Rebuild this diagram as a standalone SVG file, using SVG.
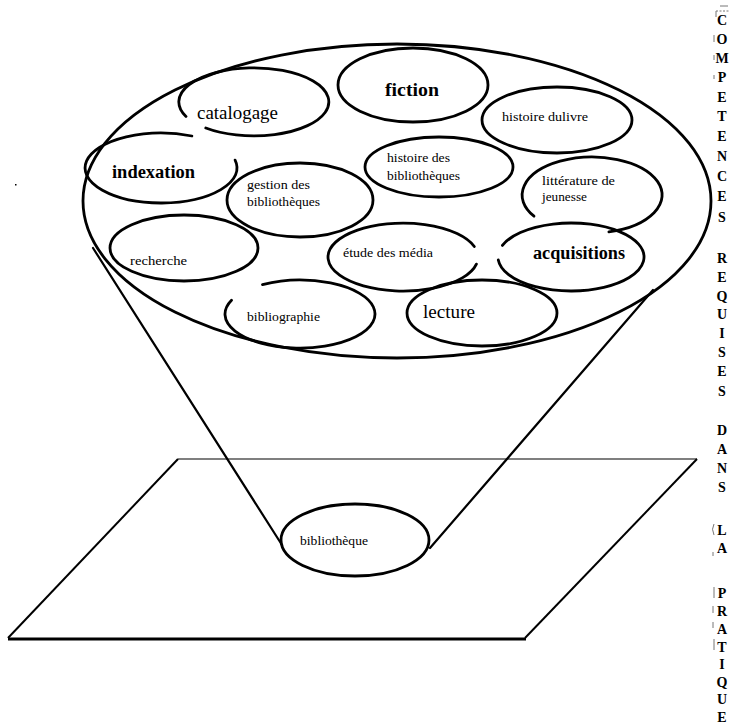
<svg xmlns="http://www.w3.org/2000/svg" width="739" height="726" viewBox="0 0 739 726">
<style>
.bg{fill:#ffffff}
.ell{fill:none;stroke:#000;stroke-width:2.8;stroke-linecap:round}
.big{fill:none;stroke:#000;stroke-width:2.8}
.cone{fill:none;stroke:#000;stroke-width:2.2;stroke-linecap:round}
.plane{fill:none;stroke:#000;stroke-width:2}
.sm{font-family:'Liberation Serif','Times New Roman',serif;font-size:12px;fill:#000}
.lg{font-family:'Liberation Serif','Times New Roman',serif;font-size:18px;fill:#000}
.col{font-family:'Liberation Serif','Times New Roman',serif;font-size:14px;font-weight:bold;fill:#000;text-anchor:middle}
.mark{stroke:#777;stroke-width:1;fill:none}
</style>
<rect class="bg" x="0" y="0" width="739" height="726"/>

<g id="plane">
  <line x1="178" y1="459" x2="697" y2="459" stroke="#000" stroke-width="1.2"/>
  <line x1="178" y1="459" x2="8" y2="638" class="plane"/>
  <line x1="697" y1="459" x2="525" y2="638" class="plane"/>
  <line x1="8" y1="639" x2="526" y2="639" stroke="#000" stroke-width="3"/>
</g>

<g id="cone-top">
  <ellipse class="big" cx="397" cy="201" rx="314" ry="157"/>
</g>

<g id="connectors">
  <line class="cone" x1="93" y1="248" x2="282" y2="545"/>
  <line class="cone" x1="653" y1="290" x2="430" y2="548"/>
</g>

<g id="catalogage">
  <path class="ell" d="M 186 116.4 A 75 34 0 1 1 205.8 128"/>
  <text class="lg" x="197" y="119" textLength="81" lengthAdjust="spacingAndGlyphs">catalogage</text>
</g>
<g id="fiction">
  <ellipse class="ell" cx="413" cy="85" rx="75" ry="37"/>
  <text class="lg" x="385" y="96" font-weight="bold" textLength="54" lengthAdjust="spacingAndGlyphs">fiction</text>
</g>
<g id="histoire-du-livre">
  <ellipse class="ell" cx="557" cy="120" rx="75" ry="33"/>
  <text class="sm" x="502" y="121" textLength="86" lengthAdjust="spacingAndGlyphs">histoire dulivre</text>
</g>
<g id="histoire-des-bibliotheques">
  <ellipse class="ell" cx="439" cy="167" rx="74" ry="30"/>
  <text class="sm" x="387" y="162" textLength="63" lengthAdjust="spacingAndGlyphs">histoire des</text>
  <text class="sm" x="387" y="180" textLength="73" lengthAdjust="spacingAndGlyphs">bibliothèques</text>
</g>
<g id="litterature-de-jeunesse">
  <path class="ell" d="M 534 216.2 A 70 38 0 1 1 608.9 231.9"/>
  <text class="sm" x="542" y="185" textLength="73" lengthAdjust="spacingAndGlyphs">littérature de</text>
  <text class="sm" x="542" y="201" textLength="45" lengthAdjust="spacingAndGlyphs">jeunesse</text>
</g>
<g id="indexation">
  <path class="ell" d="M 235.1 160.1 A 76 35 0 1 1 191.9 136"/>
  <text class="lg" x="112" y="178" font-weight="bold" textLength="83" lengthAdjust="spacingAndGlyphs">indexation</text>
</g>
<g id="gestion-des-bibliotheques">
  <ellipse class="ell" cx="300" cy="200" rx="73" ry="37"/>
  <text class="sm" x="247" y="189" textLength="63" lengthAdjust="spacingAndGlyphs">gestion des</text>
  <text class="sm" x="247" y="206" textLength="73" lengthAdjust="spacingAndGlyphs">bibliothèques</text>
</g>
<g id="recherche">
  <ellipse class="ell" cx="184" cy="248" rx="74" ry="33"/>
  <text class="sm" x="130" y="265" textLength="57" lengthAdjust="spacingAndGlyphs">recherche</text>
</g>
<g id="etude-des-media">
  <path class="ell" d="M 476.4 264.1 A 75 34 0 1 1 474.3 246.5"/>
  <text class="sm" x="343" y="257" textLength="90" lengthAdjust="spacingAndGlyphs">étude des média</text>
</g>
<g id="acquisitions">
  <path class="ell" d="M 502.4 245.4 A 73 34 0 1 1 498.3 260"/>
  <text class="lg" x="533" y="259" font-weight="bold" fill="#333" textLength="92" lengthAdjust="spacingAndGlyphs">acquisitions</text>
</g>
<g id="bibliographie">
  <path class="ell" d="M 262.5 284.6 A 75 34 0 1 1 231.5 300.2"/>
  <text class="sm" x="247" y="321" textLength="73" lengthAdjust="spacingAndGlyphs">bibliographie</text>
</g>
<g id="lecture">
  <ellipse class="ell" cx="482" cy="313" rx="75" ry="33"/>
  <text class="lg" x="423" y="318" textLength="52" lengthAdjust="spacingAndGlyphs">lecture</text>
</g>
<g id="bibliotheque">
  <ellipse class="ell" cx="355" cy="540" rx="74" ry="36"/>
  <text class="sm" x="300" y="545" font-size="11.5" textLength="68" lengthAdjust="spacingAndGlyphs">bibliothèque</text>
</g>

<g id="side-title">
  <text class="col" x="722" y="25">C</text>
  <text class="col" x="722" y="44">O</text>
  <text class="col" x="722" y="63">M</text>
  <text class="col" x="722" y="82">P</text>
  <text class="col" x="722" y="102">E</text>
  <text class="col" x="722" y="121">T</text>
  <text class="col" x="722" y="141">E</text>
  <text class="col" x="722" y="161">N</text>
  <text class="col" x="722" y="181">C</text>
  <text class="col" x="722" y="201">E</text>
  <text class="col" x="722" y="222">S</text>
  <text class="col" x="722" y="263">R</text>
  <text class="col" x="722" y="282">E</text>
  <text class="col" x="722" y="301">Q</text>
  <text class="col" x="722" y="319">U</text>
  <text class="col" x="722" y="338">I</text>
  <text class="col" x="722" y="357">S</text>
  <text class="col" x="722" y="376">E</text>
  <text class="col" x="722" y="396">S</text>
  <text class="col" x="722" y="435">D</text>
  <text class="col" x="722" y="454">A</text>
  <text class="col" x="722" y="473">N</text>
  <text class="col" x="722" y="492">S</text>
  <text class="col" x="722" y="535">L</text>
  <text class="col" x="722" y="553">A</text>
  <text class="col" x="722" y="598">P</text>
  <text class="col" x="722" y="616">R</text>
  <text class="col" x="722" y="634">A</text>
  <text class="col" x="722" y="652">T</text>
  <text class="col" x="722" y="669">I</text>
  <text class="col" x="722" y="687">Q</text>
  <text class="col" x="722" y="704">U</text>
  <text class="col" x="722" y="722">E</text>
  <g class="mark">
    <line x1="720" y1="6" x2="728" y2="6"/>
    <line x1="716" y1="11" x2="730" y2="11" stroke-dasharray="2 1.5"/>
    <line x1="716" y1="11" x2="716" y2="17"/>
    <line x1="714" y1="35" x2="714" y2="42"/>
    <line x1="714" y1="55" x2="714" y2="60"/>
    <line x1="714" y1="75" x2="714" y2="79"/>
    <path d="M 714 524 Q 711 529 714 535"/>
    <line x1="713" y1="552" x2="713" y2="556"/>
    <line x1="714" y1="587" x2="714" y2="598"/>
    <line x1="713" y1="606" x2="713" y2="613"/>
    <line x1="713" y1="622" x2="713" y2="628"/>
    <line x1="714" y1="639" x2="714" y2="650"/>
  </g>
</g>
<rect x="15" y="184" width="1.5" height="1.5" fill="#000"/>
</svg>
